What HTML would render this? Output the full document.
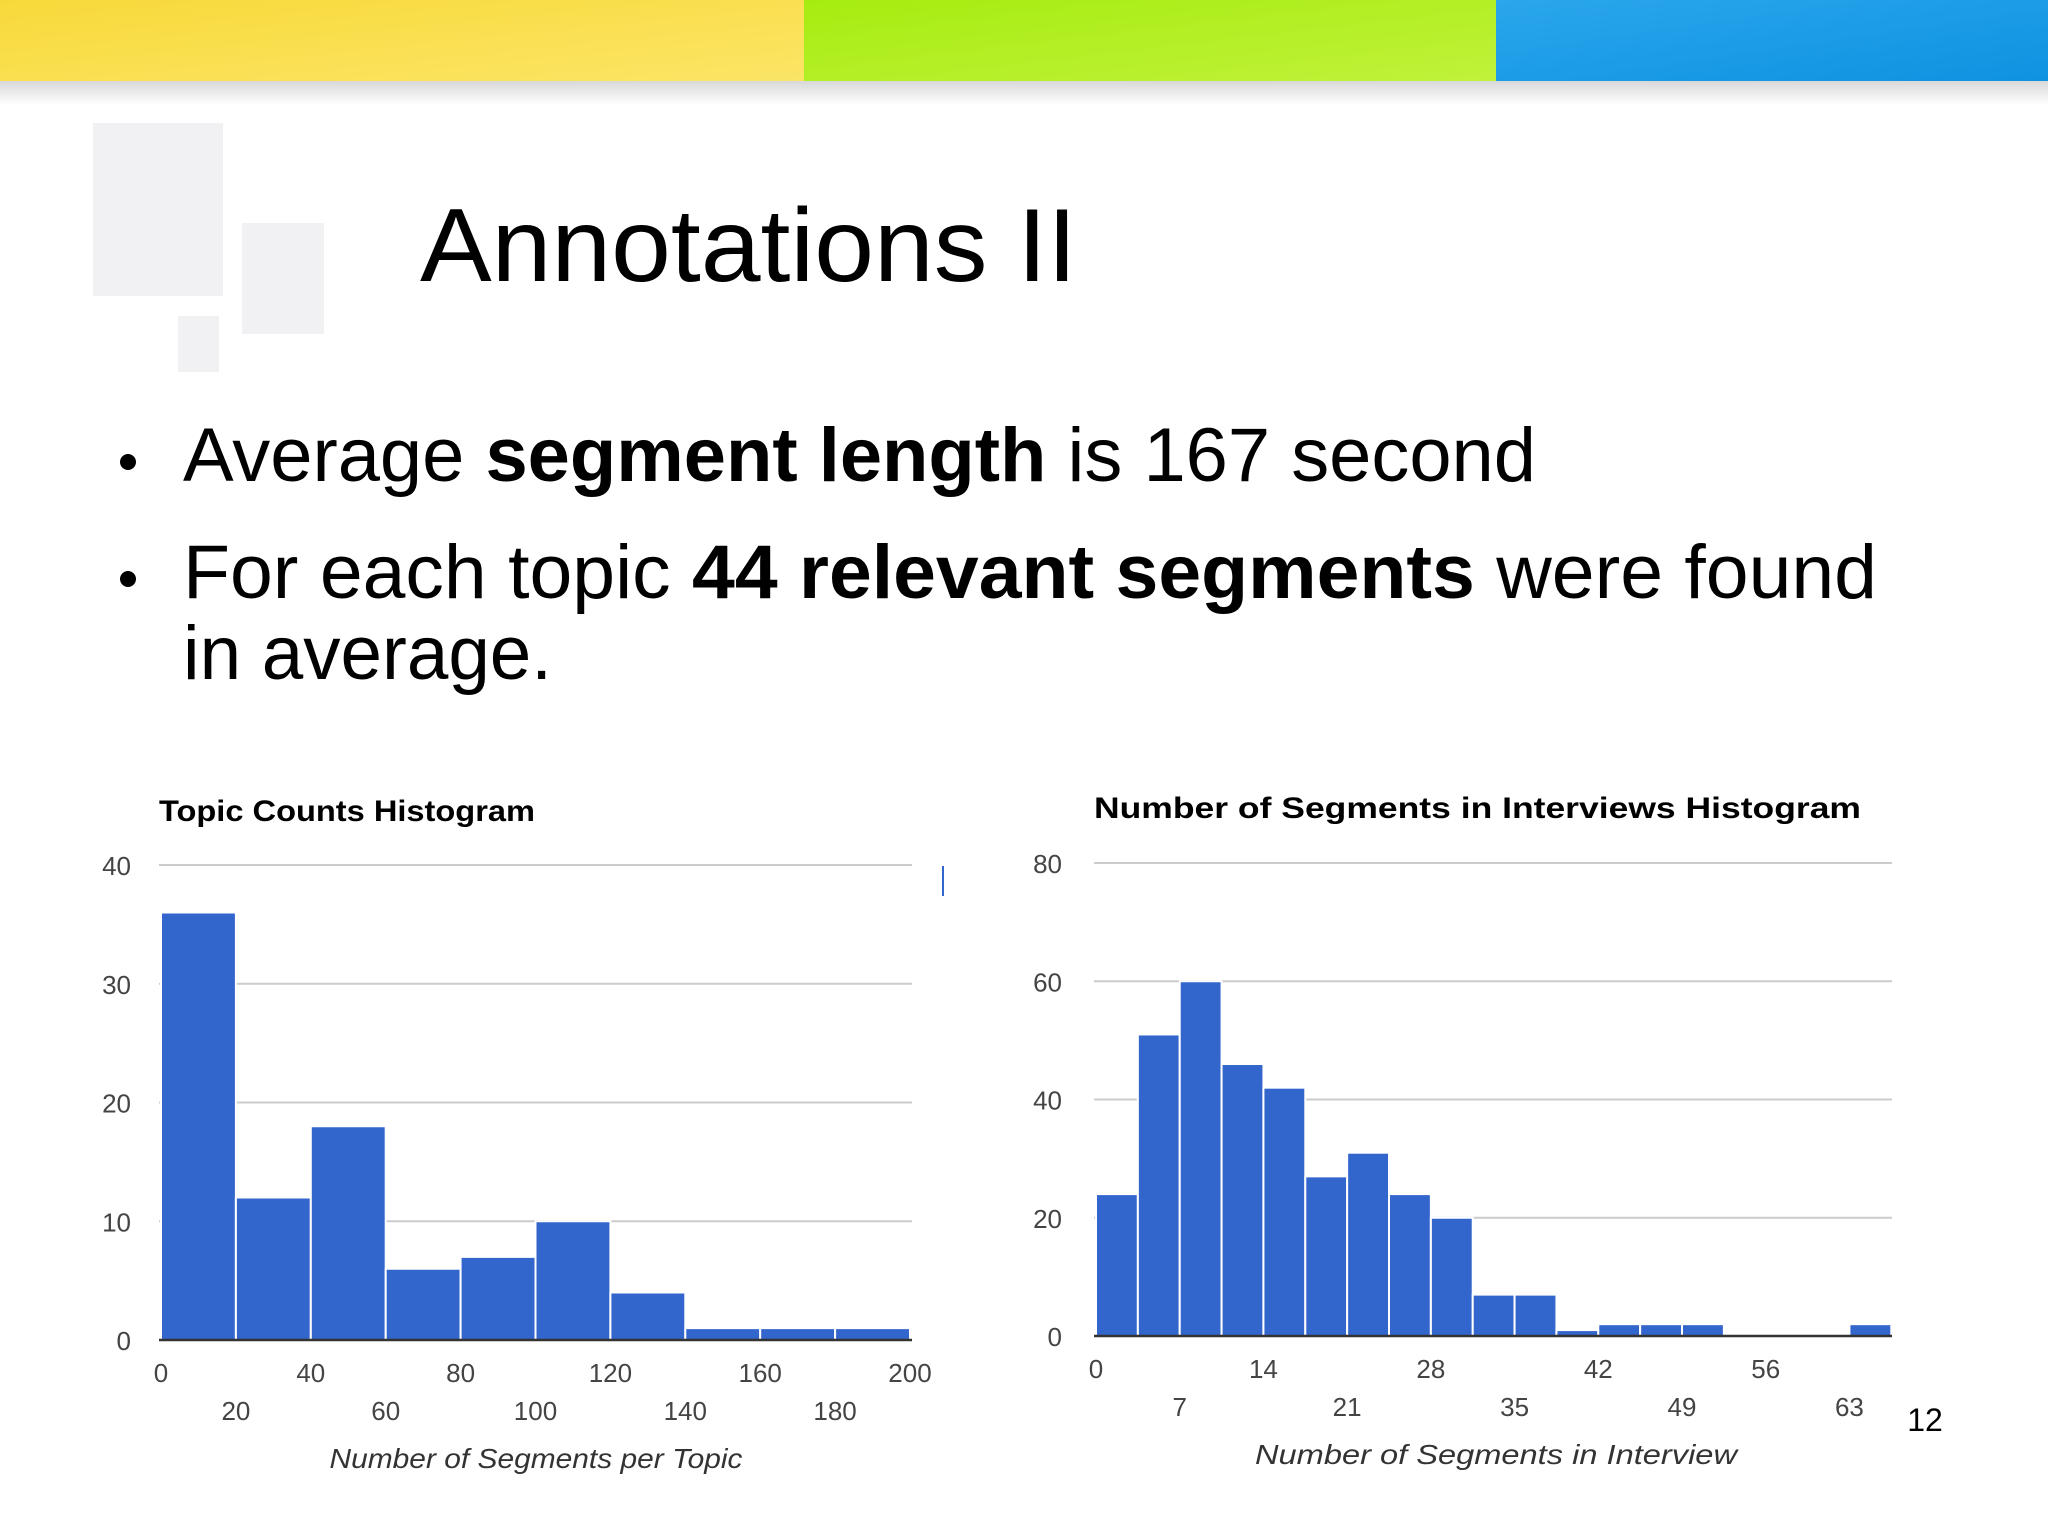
<!DOCTYPE html>
<html><head><meta charset="utf-8"><style>
html,body{margin:0;padding:0;background:#fff;}
svg{display:block;}
</style></head><body>
<svg id="slide" width="2048" height="1535" viewBox="0 0 2048 1535" xmlns="http://www.w3.org/2000/svg">
<defs>
<linearGradient id="shadow" x1="0" y1="0" x2="0" y2="1"><stop offset="0" stop-color="#d8d8d8"/><stop offset="1" stop-color="#ffffff"/></linearGradient>
<linearGradient id="gy" x1="0" y1="0" x2="1" y2="1"><stop offset="0" stop-color="#f8d93a"/><stop offset="1" stop-color="#fbe566"/></linearGradient>
<linearGradient id="gg" x1="0" y1="0" x2="1" y2="1"><stop offset="0" stop-color="#a6ec10"/><stop offset="1" stop-color="#c0f23a"/></linearGradient>
<linearGradient id="gb" x1="0" y1="0" x2="1" y2="1"><stop offset="0" stop-color="#2aa6ec"/><stop offset="1" stop-color="#0f92e0"/></linearGradient>
</defs>
<g>
<rect x="0" y="81" width="2048" height="24" fill="url(#shadow)"/>
<rect x="0" y="0" width="804" height="81" fill="url(#gy)"/>
<rect x="804" y="0" width="692" height="81" fill="url(#gg)"/>
<rect x="1496" y="0" width="552" height="81" fill="url(#gb)"/>
</g>
<g fill="#f1f0f2">
<rect x="93" y="123" width="130" height="173"/>
<rect x="242" y="223" width="82" height="111"/>
<rect x="178" y="316" width="41" height="56"/>
</g>
<text x="420" y="281" font-family="Liberation Sans, sans-serif" font-size="104" fill="#000" textLength="657" lengthAdjust="spacingAndGlyphs">Annotations II</text>
<g font-family="Liberation Sans, sans-serif" font-size="76" fill="#000">
<circle cx="128" cy="462" r="8" fill="#000"/>
<text x="183" y="481" textLength="1353" lengthAdjust="spacingAndGlyphs">Average <tspan font-weight="bold">segment length</tspan> is 167 second</text>
<circle cx="128" cy="579" r="8" fill="#000"/>
<text x="183" y="598" textLength="1694" lengthAdjust="spacingAndGlyphs">For each topic <tspan font-weight="bold">44 relevant segments</tspan> were found</text>
<text x="183" y="679" textLength="369" lengthAdjust="spacingAndGlyphs">in average.</text>
</g>
<g id="chartL"></g>
<g id="chartR"></g>
<rect x="942" y="866" width="2" height="30" fill="#3366cc"/>
<text x="1925" y="1431" font-family="Liberation Sans, sans-serif" font-size="32" fill="#000" text-anchor="middle">12</text>
</svg>
<script>
// Left chart data
const leftBinStarts = [0,20,40,60,80,100,120,140,160,180];
const leftCounts = [36,12,18,6,7,10,4,1,1,1];
const leftYTicks = [0,10,20,30,40];
const leftXTicksRow1 = [0,40,80,120,160,200];
const leftXTicksRow2 = [20,60,100,140,180];
// Right chart data
const rightBinStarts = [0,3.5,7,10.5,14,17.5,21,24.5,28,31.5,35,38.5,42,45.5,49,52.5,56,59.5,63];
const rightCounts = [24,51,60,46,42,27,31,24,20,7,7,1,2,2,2,0,0,0,2];
const rightYTicks = [0,20,40,60,80];
const rightXTicksRow1 = [0,14,28,42,56];
const rightXTicksRow2 = [7,21,35,49,63];

const NS='http://www.w3.org/2000/svg';
function mk(tag,attrs,parent,txt){const e=document.createElementNS(NS,tag);for(const k in attrs)e.setAttribute(k,attrs[k]);if(txt!==undefined)e.textContent=txt;parent.appendChild(e);return e;}

function drawChart(g,cfg){
  const xs=v=>cfg.x0+(v-cfg.xmin)/(cfg.xmax-cfg.xmin)*(cfg.x1-cfg.x0);
  const ys=v=>cfg.y0-(v/cfg.ymax)*(cfg.y0-cfg.y1);
  const t=mk('text',{x:cfg.titleX,y:cfg.titleY,'font-family':'Liberation Sans, sans-serif','font-size':30,'font-weight':'bold',fill:'#000',textLength:cfg.titleLen,lengthAdjust:'spacingAndGlyphs'},g,cfg.title);
  
  
  cfg.yTicks.forEach(v=>{
    if(v>0){const l=mk('line',{x1:cfg.gx0,x2:cfg.gx1,y1:ys(v),y2:ys(v),stroke:'#cccccc','stroke-width':2},g);
    
    }
    const tl=mk('text',{x:cfg.yLabelX,y:ys(v)+10,'text-anchor':'end','font-family':'Liberation Sans, sans-serif','font-size':26,fill:'#444'},g,String(v));
    
    
  });
  cfg.bins.forEach((b,i)=>{
    const c=cfg.counts[i]; if(c<=0) return;
    const r=mk('rect',{x:xs(b),y:ys(c),width:xs(b+cfg.bw)-xs(b),height:ys(0)-ys(c),fill:'#3366cc',stroke:'#fff','stroke-width':2},g);
    
    
  });
  const ax=mk('line',{x1:cfg.gx0,x2:cfg.gx1,y1:ys(0),y2:ys(0),stroke:'#333','stroke-width':2.5},g);
  
  
  cfg.row1.forEach(v=>{const e=mk('text',{x:xs(v),y:cfg.r1y,'text-anchor':'middle','font-family':'Liberation Sans, sans-serif','font-size':26,fill:'#444'},g,String(v));
    
    });
  cfg.row2.forEach(v=>{const e=mk('text',{x:xs(v),y:cfg.r2y,'text-anchor':'middle','font-family':'Liberation Sans, sans-serif','font-size':26,fill:'#444'},g,String(v));
    
    });
  const at=mk('text',{x:cfg.axTitleX,y:cfg.axTitleY,'text-anchor':'middle','font-family':'Liberation Sans, sans-serif','font-size':28,'font-style':'italic',fill:'#333',textLength:cfg.axTitleLen,lengthAdjust:'spacingAndGlyphs'},g,cfg.axTitle);
  
  
}
drawChart(document.getElementById('chartL'),{
  title:'Topic Counts Histogram',titleX:159,titleY:821,titleLen:376,
  x0:161,x1:910,xmin:0,xmax:200,y0:1340,y1:865,ymax:40,gx0:159,gx1:912,yLabelX:131,
  yTicks:leftYTicks,bins:leftBinStarts,counts:leftCounts,bw:20,
  row1:leftXTicksRow1,row2:leftXTicksRow2,r1y:1382,r2y:1420,
  axTitle:'Number of Segments per Topic',axTitleX:536,axTitleY:1468,axTitleLen:413
});
drawChart(document.getElementById('chartR'),{
  title:'Number of Segments in Interviews Histogram',titleX:1094,titleY:818,titleLen:767,
  x0:1096,x1:1891.3,xmin:0,xmax:66.5,y0:1336,y1:863,ymax:80,gx0:1094,gx1:1892,yLabelX:1062,
  yTicks:rightYTicks,bins:rightBinStarts,counts:rightCounts,bw:3.5,
  row1:rightXTicksRow1,row2:rightXTicksRow2,r1y:1378,r2y:1416,
  axTitle:'Number of Segments in Interview',axTitleX:1496,axTitleY:1464,axTitleLen:482
});
</script>
</body></html>
